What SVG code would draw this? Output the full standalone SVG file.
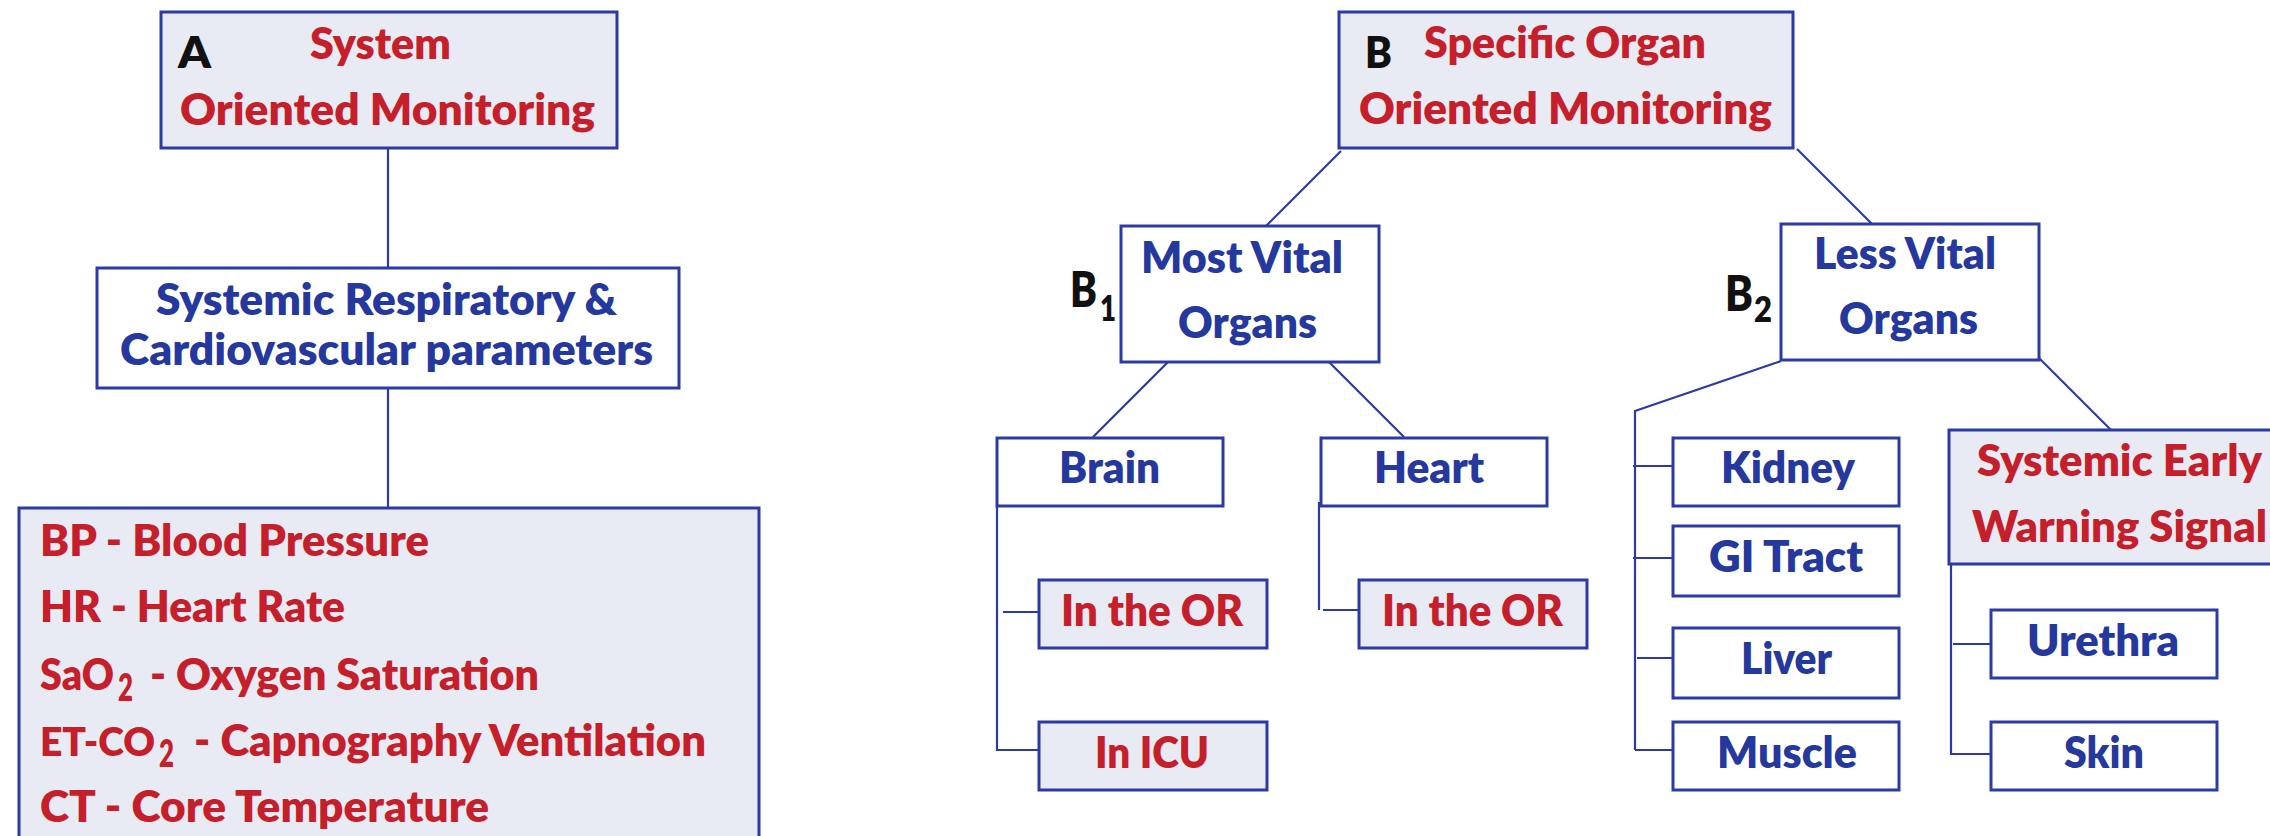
<svg xmlns="http://www.w3.org/2000/svg" width="2270" height="836" viewBox="0 0 2270 836">
<style>
.box{stroke:#2B3BA3;stroke-width:3;fill:#fff}
.hl{fill:#E8EAF4}
.con{stroke:#2B3BA3;stroke-width:2.2;fill:none}
text{font-family:Lato,"Open Sans","Liberation Sans",sans-serif;font-weight:800;font-size:44px}
.r{fill:#C41F2A}
.b{fill:#25389E}
.k{fill:#111}
</style>
<rect width="2270" height="836" fill="#fff"/>
<g id="connectors">
<path class="con" d="M388 148V268M388 388V508"/>
<path class="con" d="M1341 151L1266 226M1797 149L1872 224"/>
<path class="con" d="M1169 361L1093 437M1329 362L1404 437"/>
<path class="con" d="M997 506V751M1003 612H1039M997 750H1039"/>
<path class="con" d="M1319 502V610M1323 610H1361"/>
<path class="con" d="M1781 361L1635 411V750M1633 466H1673M1633 558H1673M1637 658H1673M1635 750H1673"/>
<path class="con" d="M2038 357L2112 431"/>
<path class="con" d="M1951 564V755M1953 644H1991M1951 754H1991"/>
</g>
<g id="nodeA">
<rect class="box hl" x="161" y="12" width="456" height="136"/>
<text class="k" x="178" y="68" font-size="56" textLength="33" lengthAdjust="spacingAndGlyphs">A</text>
<text class="r" x="310" y="59" textLength="141" lengthAdjust="spacingAndGlyphs">System</text>
<text class="r" x="180" y="125" textLength="415" lengthAdjust="spacingAndGlyphs">Oriented Monitoring</text>
</g>
<g id="nodeResp">
<rect class="box" x="97" y="268" width="582" height="120"/>
<text class="b" x="156" y="315" textLength="461" lengthAdjust="spacingAndGlyphs">Systemic Respiratory &amp;</text>
<text class="b" x="120" y="365" textLength="533" lengthAdjust="spacingAndGlyphs">Cardiovascular parameters</text>
</g>
<g id="nodeParams">
<rect class="box hl" x="19" y="508" width="740" height="345"/>
<text class="r" x="40" y="556" textLength="389" lengthAdjust="spacingAndGlyphs">BP - Blood Pressure</text>
<text class="r" x="40" y="622" textLength="305" lengthAdjust="spacingAndGlyphs">HR - Heart Rate</text>
<text class="r" y="690"><tspan x="40" textLength="74" lengthAdjust="spacingAndGlyphs">SaO</tspan><tspan x="118" y="701" font-size="37" textLength="15" lengthAdjust="spacingAndGlyphs">2</tspan><tspan x="140" y="690" textLength="399" lengthAdjust="spacingAndGlyphs"> - Oxygen Saturation</tspan></text>
<text class="r" y="756"><tspan x="40" font-size="40" textLength="115" lengthAdjust="spacingAndGlyphs">ET-CO</tspan><tspan x="159" y="767" font-size="37" textLength="15" lengthAdjust="spacingAndGlyphs">2</tspan><tspan x="184" y="756" textLength="522" lengthAdjust="spacingAndGlyphs"> - Capnography Ventilation</tspan></text>
<text class="r" x="40" y="822" textLength="449" lengthAdjust="spacingAndGlyphs">CT - Core Temperature</text>
</g>
<g id="nodeB">
<rect class="box hl" x="1339" y="12" width="454" height="136"/>
<text class="k" x="1365" y="68" font-size="56" textLength="27" lengthAdjust="spacingAndGlyphs">B</text>
<text class="r" x="1424" y="58" textLength="282" lengthAdjust="spacingAndGlyphs">Specific Organ</text>
<text class="r" x="1359" y="124" textLength="413" lengthAdjust="spacingAndGlyphs">Oriented Monitoring</text>
</g>
<g id="nodeB1">
<rect class="box" x="1121" y="226" width="258" height="136"/>
<text class="b" x="1141" y="273" textLength="202" lengthAdjust="spacingAndGlyphs">Most Vital</text>
<text class="b" x="1178" y="338" textLength="139" lengthAdjust="spacingAndGlyphs">Organs</text>
<text class="k" y="307"><tspan x="1070" font-size="50" textLength="27" lengthAdjust="spacingAndGlyphs">B</tspan><tspan x="1100" y="321" font-size="36" textLength="16" lengthAdjust="spacingAndGlyphs">1</tspan></text>
</g>
<g id="nodeB2">
<rect class="box" x="1781" y="224" width="258" height="136"/>
<text class="b" x="1814" y="269" textLength="182" lengthAdjust="spacingAndGlyphs">Less Vital</text>
<text class="b" x="1839" y="334" textLength="139" lengthAdjust="spacingAndGlyphs">Organs</text>
<text class="k" y="311"><tspan x="1725" font-size="50" textLength="28" lengthAdjust="spacingAndGlyphs">B</tspan><tspan x="1754" y="322" font-size="36" textLength="18" lengthAdjust="spacingAndGlyphs">2</tspan></text>
</g>
<g id="nodeBrain">
<rect class="box" x="997" y="438" width="226" height="68"/>
<text class="b" x="1059" y="483" textLength="101" lengthAdjust="spacingAndGlyphs">Brain</text>
</g>
<g id="nodeHeart">
<rect class="box" x="1321" y="438" width="226" height="68"/>
<text class="b" x="1374" y="483" textLength="110" lengthAdjust="spacingAndGlyphs">Heart</text>
</g>
<g id="nodeBrainOR">
<rect class="box hl" x="1039" y="580" width="228" height="68"/>
<text class="r" x="1061" y="626" textLength="182" lengthAdjust="spacingAndGlyphs">In the OR</text>
</g>
<g id="nodeBrainICU">
<rect class="box hl" x="1039" y="722" width="228" height="68"/>
<text class="r" x="1095" y="768" textLength="114" lengthAdjust="spacingAndGlyphs">In ICU</text>
</g>
<g id="nodeHeartOR">
<rect class="box hl" x="1359" y="580" width="228" height="68"/>
<text class="r" x="1382" y="626" textLength="181" lengthAdjust="spacingAndGlyphs">In the OR</text>
</g>
<g id="nodeKidney">
<rect class="box" x="1673" y="438" width="226" height="68"/>
<text class="b" x="1721" y="483" textLength="134" lengthAdjust="spacingAndGlyphs">Kidney</text>
</g>
<g id="nodeGI">
<rect class="box" x="1673" y="526" width="226" height="70"/>
<text class="b" x="1709" y="572" textLength="154" lengthAdjust="spacingAndGlyphs">GI Tract</text>
</g>
<g id="nodeLiver">
<rect class="box" x="1673" y="628" width="226" height="70"/>
<text class="b" x="1741" y="674" textLength="91" lengthAdjust="spacingAndGlyphs">Liver</text>
</g>
<g id="nodeMuscle">
<rect class="box" x="1673" y="722" width="226" height="68"/>
<text class="b" x="1717" y="768" textLength="140" lengthAdjust="spacingAndGlyphs">Muscle</text>
</g>
<g id="nodeSEWS">
<rect class="box hl" x="1949" y="430" width="330" height="134"/>
<text class="r" x="1977" y="476" textLength="285" lengthAdjust="spacingAndGlyphs">Systemic Early</text>
<text class="r" x="1972" y="542" textLength="295" lengthAdjust="spacingAndGlyphs">Warning Signal</text>
</g>
<g id="nodeUrethra">
<rect class="box" x="1991" y="610" width="226" height="68"/>
<text class="b" x="2027" y="656" textLength="152" lengthAdjust="spacingAndGlyphs">Urethra</text>
</g>
<g id="nodeSkin">
<rect class="box" x="1991" y="722" width="226" height="68"/>
<text class="b" x="2064" y="768" textLength="80" lengthAdjust="spacingAndGlyphs">Skin</text>
</g>
</svg>
